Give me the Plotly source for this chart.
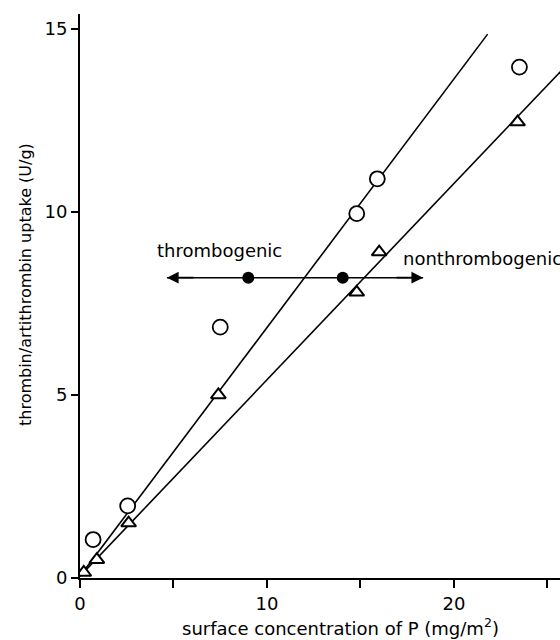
import plotly.graph_objects as go

# ---- data ----
circle_x = [0.7, 2.55, 7.5, 14.8, 15.9, 23.5]
circle_y = [1.05, 1.97, 6.85, 9.95, 10.9, 13.95]

triangle_x = [0.2, 0.9, 2.6, 7.4, 14.8, 16.0, 23.4]
triangle_y = [0.15, 0.5, 1.5, 5.0, 7.8, 8.9, 12.45]

fit_circle_x = [0.0, 21.8]
fit_circle_y = [0.05, 14.85]
fit_triangle_x = [0.0, 25.7]
fit_triangle_y = [0.05, 13.83]

arrow_x = [4.65, 18.35]
arrow_y = [8.2, 8.2]
dot_x = [9.0, 14.05]
dot_y = [8.2, 8.2]

x_ticks = [0, 5, 10, 15, 20, 25]
x_ticklabels = ["0", "", "10", "", "20", ""]
y_ticks = [0, 5, 10, 15]
y_ticklabels = ["0", "5", "10", "15"]

x_title = "surface concentration of P (mg/m<sup>2</sup>)"
y_title = "thrombin/artithrombin uptake (U/g)"
label_left = "thrombogenic"
label_right = "nonthrombogenic"

FONT = "DejaVu Sans"
L, T, B = 80, 14, 62
PW, PH = 560 - L, 640 - T - B

fig = go.Figure()

fig.add_trace(go.Scatter(x=fit_circle_x, y=fit_circle_y, mode="lines",
                         line=dict(color="black", width=1.6), showlegend=False))
fig.add_trace(go.Scatter(x=fit_triangle_x, y=fit_triangle_y, mode="lines",
                         line=dict(color="black", width=1.6), showlegend=False))
fig.add_trace(go.Scatter(x=arrow_x, y=arrow_y, mode="lines",
                         line=dict(color="black", width=1.6), showlegend=False))

fig.add_trace(go.Scatter(x=circle_x, y=circle_y, mode="markers",
                         marker=dict(symbol="circle", size=15, color="white",
                                     line=dict(color="black", width=1.8)),
                         showlegend=False))
fig.add_trace(go.Scatter(x=triangle_x, y=triangle_y, mode="markers",
                         marker=dict(symbol="triangle-up", size=13, color="white",
                                     line=dict(color="black", width=2)),
                         showlegend=False))
fig.add_trace(go.Scatter(x=dot_x, y=dot_y, mode="markers",
                         marker=dict(symbol="circle", size=12, color="black"),
                         showlegend=False))

# arrow heads
fig.add_annotation(x=arrow_x[0], y=arrow_y[0], ax=arrow_x[0] + 1.5, ay=arrow_y[0],
                   xref="x", yref="y", axref="x", ayref="y", text="",
                   showarrow=True, arrowhead=2, arrowsize=1.3, arrowwidth=1.8,
                   arrowcolor="black")
fig.add_annotation(x=arrow_x[1], y=arrow_y[1], ax=arrow_x[1] - 1.5, ay=arrow_y[1],
                   xref="x", yref="y", axref="x", ayref="y", text="",
                   showarrow=True, arrowhead=2, arrowsize=1.3, arrowwidth=1.8,
                   arrowcolor="black")

fig.add_annotation(x=4.0, y=8.93, xref="x", yref="y", text=label_left,
                   showarrow=False, xanchor="left", yanchor="middle",
                   font=dict(family=FONT, size=18, color="black"))
fig.add_annotation(x=17.15, y=8.73, xref="x", yref="y", text=label_right,
                   showarrow=False, xanchor="left", yanchor="middle",
                   font=dict(family=FONT, size=18, color="black"))

# axis titles as annotations for exact placement
fig.add_annotation(xref="paper", yref="paper", x=(340 - L) / PW,
                   y=(578 - 627) / PH, text=x_title, showarrow=False,
                   xanchor="center", yanchor="middle",
                   font=dict(family=FONT, size=18, color="black"))
fig.add_annotation(xref="paper", yref="paper", x=-(L - 25) / PW,
                   y=(578 - 285) / PH, text=y_title, textangle=-90,
                   showarrow=False, xanchor="center", yanchor="middle",
                   font=dict(family=FONT, size=16, color="black"))

fig.update_xaxes(range=[0, 25.67], tickvals=x_ticks, ticktext=x_ticklabels,
                 ticks="outside", ticklen=8, tickwidth=1.5, tickcolor="black",
                 showline=True, linecolor="black", linewidth=2,
                 showgrid=False, zeroline=False,
                 tickfont=dict(family=FONT, size=18, color="black"))
fig.update_yaxes(range=[0, 15.4], tickvals=y_ticks, ticktext=y_ticklabels,
                 ticks="outside", ticklen=7, tickwidth=1.5, tickcolor="black",
                 showline=True, linecolor="black", linewidth=2,
                 showgrid=False, zeroline=False,
                 tickfont=dict(family=FONT, size=18, color="black"))

fig.update_layout(width=560, height=640,
                  margin=dict(l=L, r=0, t=T, b=B),
                  plot_bgcolor="white", paper_bgcolor="white",
                  font=dict(family=FONT, color="black"))

fig.write_html("out.html",
               config={"displayModeBar": False},
               post_script="document.body.style.margin='0';"
                           "document.body.style.padding='0';")
